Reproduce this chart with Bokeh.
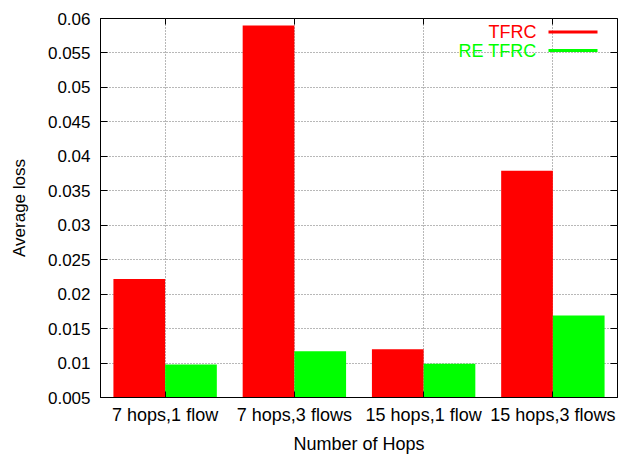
from bokeh.plotting import figure
from bokeh.models import (ColumnDataSource, FactorRange, Range1d, LinearAxis, CategoricalAxis,
                          FixedTicker, Label, BoxAnnotation, CustomJSTickFormatter)
from bokeh.transform import dodge
from bokeh.embed import file_html
from bokeh.resources import INLINE

# Average loss per scenario
categories = ["7 hops,1 flow", "7 hops,3 flows", "15 hops,1 flow", "15 hops,3 flows"]
tfrc = [0.0222, 0.0590, 0.0120, 0.0379]
re_tfrc = [0.0098, 0.0117, 0.0099, 0.0169]
y_tick_values = [0.005, 0.01, 0.015, 0.02, 0.025, 0.03, 0.035, 0.04, 0.045, 0.05, 0.055, 0.06]
series_names = ["TFRC", "RE TFRC"]
series_colors = ["#ff0000", "#00ff00"]

FONT = "Liberation Sans"

source = ColumnDataSource(dict(cat=categories, tfrc=tfrc, re_tfrc=re_tfrc))

p = figure(x_range=FactorRange(*categories), y_range=Range1d(0.005, 0.06),
           width=619, height=456, output_backend="svg", toolbar_location=None,
           min_border_left=100, min_border_right=2, min_border_top=18, min_border_bottom=58)

p.vbar(x=dodge("cat", -0.2, range=p.x_range), top="tfrc", bottom=0, width=0.4,
       source=source, fill_color=series_colors[0], line_color=None)
p.vbar(x=dodge("cat", 0.2, range=p.x_range), top="re_tfrc", bottom=0, width=0.4,
       source=source, fill_color=series_colors[1], line_color=None)

y_ticker = FixedTicker(ticks=y_tick_values)
fmt = CustomJSTickFormatter(code="return tick.toFixed(3).replace(/0+$/, '');")

# frame and axes
p.outline_line_color = "black"
p.outline_line_width = 1
p.background_fill_color = "white"
p.border_fill_color = "white"

yax = p.yaxis[0]
yax.ticker = y_ticker
yax.formatter = fmt
yax.major_tick_in = 7
yax.major_tick_out = 0
yax.minor_tick_line_color = None
yax.major_label_standoff = 10
yax.major_label_text_font_size = "17px"
yax.axis_label = "Average loss"
yax.axis_label_standoff = 16
yax.axis_label_text_font_size = "17px"

xax = p.xaxis[0]
xax.major_tick_in = 6
xax.major_tick_out = 0
xax.major_label_standoff = 7
xax.major_label_text_font_size = "18px"
xax.axis_label = "Number of Hops"
xax.axis_label_standoff = 6
xax.axis_label_text_font_size = "18px"

for ax in (xax, yax):
    ax.axis_line_color = "black"
    ax.major_tick_line_color = "black"
    ax.major_label_text_font = FONT
    ax.major_label_text_color = "black"
    ax.axis_label_text_font = FONT
    ax.axis_label_text_color = "black"
    ax.axis_label_text_font_style = "normal"

# mirrored ticks on the right and top edges (no labels)
p.add_layout(LinearAxis(ticker=y_ticker, major_label_text_color=None, major_label_standoff=0,
                        major_label_text_font_size="1px",
                        major_tick_in=7, major_tick_out=0, minor_tick_line_color=None,
                        axis_line_color=None, major_tick_line_color="black"), "right")
p.add_layout(CategoricalAxis(major_label_text_color=None, major_label_standoff=0,
                             major_label_text_font_size="1px",
                             major_tick_in=6, major_tick_out=0, axis_line_color=None,
                             major_tick_line_color="black"), "above")

# dotted grid
p.ygrid.ticker = y_ticker
for g in (p.xgrid, p.ygrid):
    g.grid_line_color = "#707070"
    g.grid_line_dash = "1 2"
    g.grid_line_width = 1
    g.grid_line_alpha = 1

# key: label then line sample, top right
key_rows = [(365.5, 0), (347.0, 1)]
for y, i in key_rows:
    p.add_layout(Label(x=436, y=y, x_units="screen", y_units="screen", text=series_names[i],
                       text_align="right", text_baseline="middle", text_color=series_colors[i],
                       text_font=FONT, text_font_size="18px"))
    p.add_layout(BoxAnnotation(left=448, right=497, bottom=y - 1.5, top=y + 1.5,
                               left_units="screen", right_units="screen",
                               bottom_units="screen", top_units="screen",
                               fill_color=series_colors[i], fill_alpha=1, line_color=None))

open("out.html", "w").write(file_html(p, INLINE))
